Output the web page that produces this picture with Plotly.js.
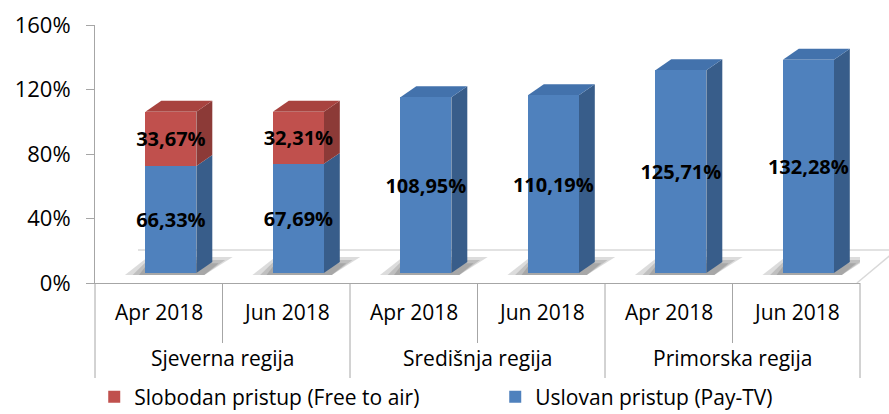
<!DOCTYPE html>
<html>
<head>
<meta charset="utf-8">
<script src="https://cdn.plot.ly/plotly-3.0.1.min.js"></script>
<style>
html,body{margin:0;padding:0;background:#ffffff;}
#chart{width:889px;height:414px;}
</style>
</head>
<body>
<div id="chart"></div>
<script>
// ---- data ----
const months = ['Apr 2018', 'Jun 2018', 'Apr 2018', 'Jun 2018', 'Apr 2018', 'Jun 2018'];
const regions = ['Sjeverna regija', 'Sjeverna regija', 'Središnja regija', 'Središnja regija', 'Primorska regija', 'Primorska regija'];
const regionNames = ['Sjeverna regija', 'Središnja regija', 'Primorska regija'];
const payTV = [66.33, 67.69, 108.95, 110.19, 125.71, 132.28];
const freeToAir = [33.67, 32.31, null, null, null, null];
const seriesNames = ['Uslovan pristup (Pay-TV)', 'Slobodan pristup (Free to air)'];
const yTickVals = [0, 40, 80, 120, 160];
const yTickText = ['0%', '40%', '80%', '120%', '160%'];

// ---- style ----
const COL = {
  blueFront: '#4F81BD', blueSide: '#385D8A', blueTop: '#4372AC',
  redFront: '#C0504D', redSide: '#8C3A37', redTop: '#A8433F',
  axis: '#a6a6a6', floor: '#d9d9d9'
};
const BAR_OFFSET = -0.105, BAR_W = 0.4, DX = 0.125, DY = 6.8;
const FONT = '"Open Sans", Lato, sans-serif';
const H = 258, W = 765;
const fmt = v => (v == null ? '' : v.toFixed(2).replace('.', ',') + '%');

const labelFont = {family: FONT, size: 20, color: '#000000', weight: 700};

const traces = [
  {
    type: 'bar', name: seriesNames[0], x: [regions, months], y: payTV, yaxis: 'y2',
    marker: {color: COL.blueFront, line: {width: 0}},
    offset: BAR_OFFSET, width: BAR_W,
    text: payTV.map(fmt), textposition: 'inside', insidetextanchor: 'middle', textangle: 0,
    constraintext: 'none', textfont: labelFont, hoverinfo: 'y+name'
  },
  {
    type: 'bar', name: seriesNames[1], x: [regions, months], y: freeToAir, yaxis: 'y2',
    marker: {color: COL.redFront, line: {width: 0}},
    offset: BAR_OFFSET, width: BAR_W,
    text: freeToAir.map(fmt), textposition: 'inside', insidetextanchor: 'middle', textangle: 0,
    constraintext: 'none', textfont: labelFont, hoverinfo: 'y+name'
  }
];

const shapes = [];

// ---- floor (drawn first, behind everything) ----
shapes.push({type: 'line', xref: 'paper', yref: 'paper', layer: 'below',
  x0: 43 / W, x1: 1.05, y0: 33 / H, y1: 33 / H, line: {color: COL.floor, width: 1.5}});
shapes.push({type: 'line', xref: 'paper', yref: 'paper', layer: 'below',
  x0: 0.996, x1: 1.05, y0: 0, y1: 0.128 * 1.04, line: {color: COL.floor, width: 1.5}});

// ---- 3D faces built from data ----
const path = pts => 'M' + pts.map(p => p[0] + ',' + p[1]).join('L') + 'Z';
function face(pts, color) {
  shapes.push({type: 'path', xref: 'x2', yref: 'y2', layer: 'below', path: path(pts),
    fillcolor: color, line: {width: 0}});
}
payTV.forEach((v, i) => {
  const xl = i + BAR_OFFSET, xr = xl + BAR_W;
  // soft shadow
  [[0.16, 0.16, 10], [0.10, 0.10, 8], [0.05, 0.05, 6]].forEach(s => {
    shapes.push({type: 'path', xref: 'x2', yref: 'y2', layer: 'below',
      path: path([[xl - s[0], -1.2], [xr + DX * 0.5, -1.2], [xr + DX + s[1], s[2]], [xl + 0.02, s[2]]]),
      fillcolor: 'rgba(60,60,60,0.18)', line: {width: 0}});
  });
  const segs = [[0, v, COL.blueSide, COL.blueTop]];
  if (freeToAir[i] != null) segs.push([v, v + freeToAir[i], COL.redSide, COL.redTop]);
  segs.forEach(s => face([[xr, s[0]], [xr + DX, s[0] + DY], [xr + DX, s[1] + DY], [xr, s[1]]], s[2]));
  const top = segs[segs.length - 1];
  face([[xl, top[1]], [xr, top[1]], [xr + DX, top[1] + DY], [xl + DX, top[1] + DY]], top[3]);
});

// ---- category table lines (paper) ----
for (let k = 0; k <= 6; k++) {
  const group = (k % 2 === 0);
  shapes.push({type: 'line', xref: 'paper', yref: 'paper',
    x0: k / 6, x1: k / 6, y0: 0, y1: group ? -95 / H : -60 / H,
    line: {color: COL.axis, width: 1}});
}

// ---- category labels (two rows) ----
const annotations = [];
months.forEach((m, i) => annotations.push({
  xref: 'x2', yref: 'paper', x: i, y: -29 / H, text: m, showarrow: false,
  xanchor: 'center', yanchor: 'middle', font: {family: FONT, size: 21, color: '#000'}
}));
regionNames.forEach((r, g) => annotations.push({
  xref: 'x2', yref: 'paper', x: 2 * g + 0.5, y: -75 / H, text: r, showarrow: false,
  xanchor: 'center', yanchor: 'middle', font: {family: FONT, size: 21, color: '#000'}
}));

const layout = {
  width: 889, height: 414,
  margin: {l: 95, r: 29, t: 25, b: 131, pad: 0, autoexpand: false},
  paper_bgcolor: '#ffffff', plot_bgcolor: 'rgba(0,0,0,0)',
  barmode: 'stack',
  font: {family: FONT, color: '#000000'},
  showlegend: true,
  xaxis: {
    type: 'multicategory', range: [-0.5, 5.5], showline: true, linecolor: COL.axis, linewidth: 1,
    ticks: '', showdividers: false, showgrid: false, zeroline: false, showticklabels: false
  },
  xaxis2: {overlaying: 'x', range: [-0.5, 5.5], visible: false},
  yaxis: {
    range: [0, 160], tickvals: yTickVals, ticktext: yTickText,
    ticks: 'outside', ticklen: 8, tickcolor: COL.axis,
    showline: true, linecolor: COL.axis, linewidth: 1, showgrid: false, zeroline: false,
    tickfont: {family: FONT, size: 22, color: '#000'}, ticklabelstandoff: 11
  },
  yaxis2: {
    overlaying: 'y', side: 'left', range: [-6.2, 153.8],
    showticklabels: false, ticks: '', showline: false, showgrid: false, zeroline: false
  },
  legend: {
    orientation: 'h', xref: 'paper', yref: 'paper',
    x: -0.001, xanchor: 'left', y: -114 / H, yanchor: 'middle',
    traceorder: 'reversed', font: {family: FONT, size: 21, color: '#000'},
    entrywidth: 356, entrywidthmode: 'pixels', bgcolor: 'rgba(0,0,0,0)'
  },
  annotations: annotations,
  shapes: shapes
};

Plotly.newPlot('chart', traces, layout, {displayModeBar: false, staticPlot: true});
</script>
</body>
</html>
